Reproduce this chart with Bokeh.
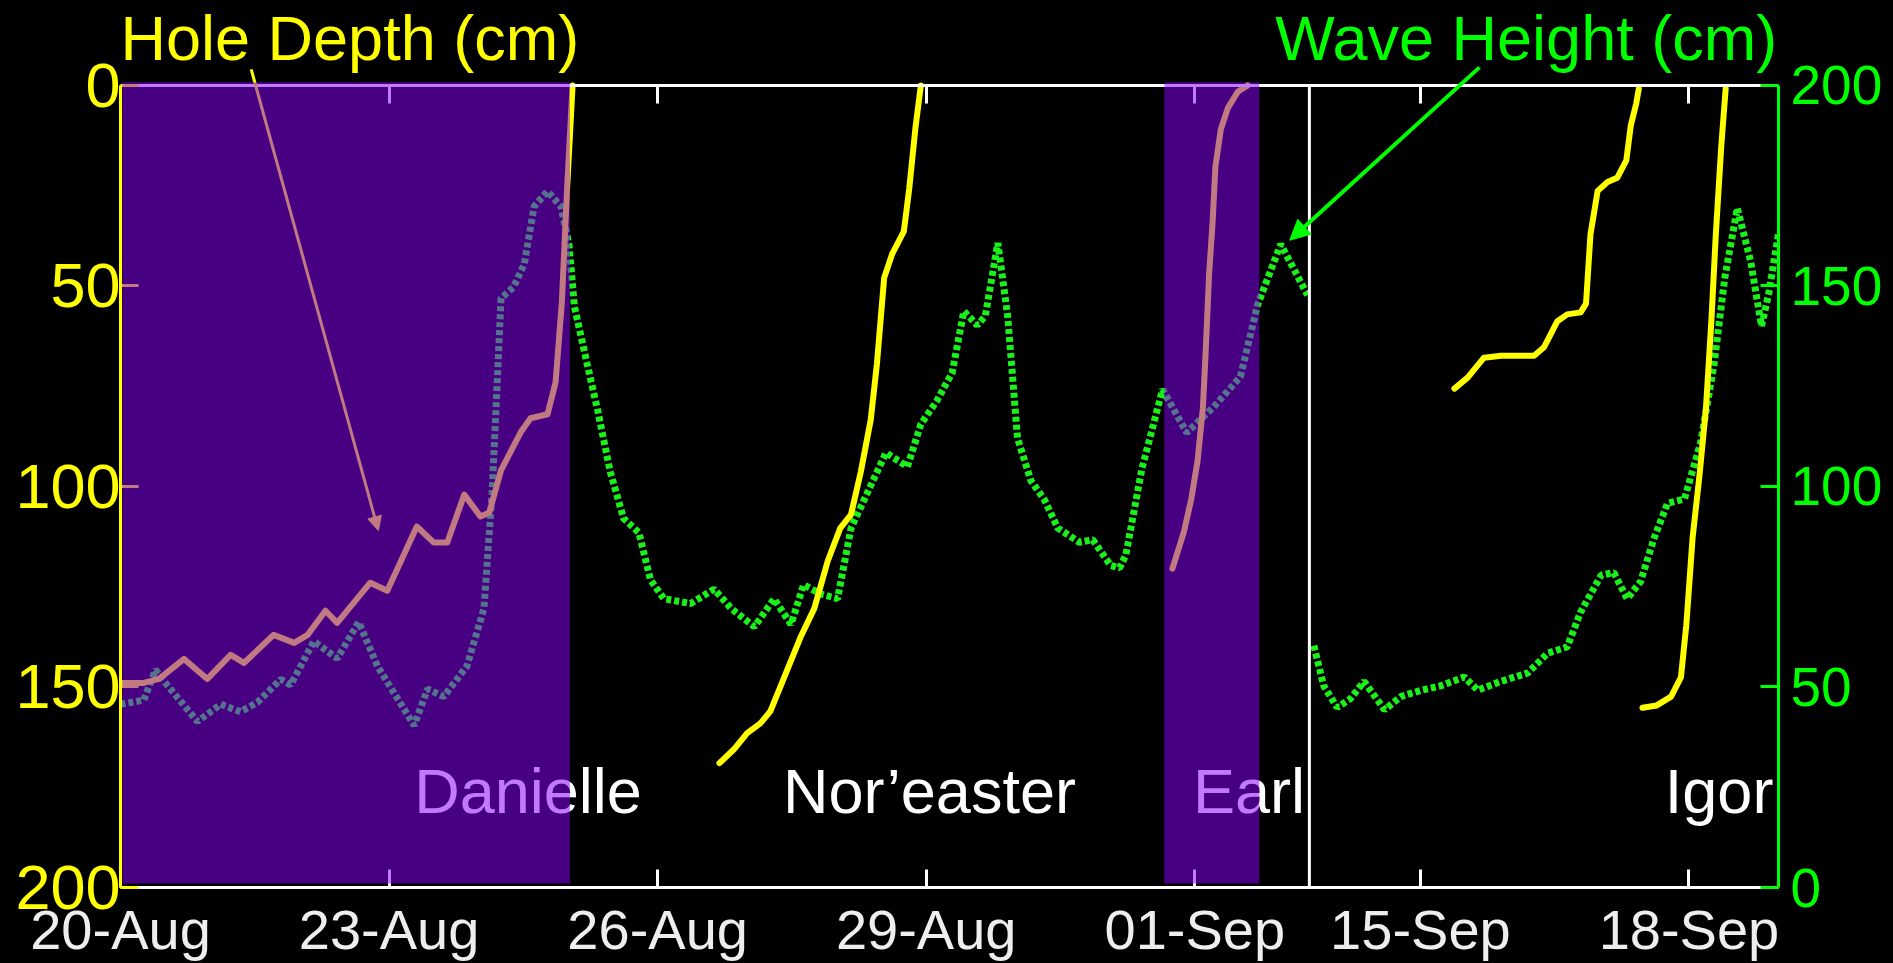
from bokeh.plotting import figure
from bokeh.models import (Range1d, LinearAxis, FixedTicker, ColumnDataSource, BoxAnnotation,
                          Label, Arrow, NormalHead)
from bokeh.core.properties import value
from bokeh.embed import file_html
from bokeh.resources import INLINE

# time = days since 20-Aug 00:00 ; the axis skips 02-Sep 06:43 .. 13-Sep 18:14
tick_days = [0, 3, 6, 9, 12, 26, 29]
tick_labels = ["20-Aug", "23-Aug", "26-Aug", "29-Aug", "01-Sep", "15-Sep", "18-Sep"]
depth_ticks = [0, 50, 100, 150, 200]
wave_ticks = [0, 50, 100, 150, 200]

# Hole depth (cm) pieces
depth1_t = [0, 0.26, 0.43, 0.71, 0.97, 1.23, 1.38, 1.71, 1.94, 2.09, 2.29, 2.42, 2.79, 2.98,
            3.31, 3.50, 3.65, 3.84, 4.02, 4.12, 4.25, 4.47, 4.58, 4.77, 4.86, 4.93, 4.99, 5.05]
depth1_v = [149, 149, 148, 143, 148, 142, 144, 137, 139, 137, 131, 134, 124, 126,
            110, 114, 114, 102, 107.5, 106.5, 96, 86.5, 83, 82, 74, 54, 25, 0]
depth2_t = [6.69, 6.85, 7.00, 7.15, 7.26, 7.45, 7.60, 7.75, 7.90, 8.04, 8.16, 8.27, 8.38,
            8.45, 8.53, 8.62, 8.75, 8.81, 8.88, 8.94]
depth2_v = [169, 165.6, 161.5, 159, 156, 145.6, 137.4, 130.4, 118.6, 110.4, 107, 96.3, 83.4,
            69.3, 48, 42, 36.4, 25.8, 10.5, 0]
depth3_t = [11.75, 11.88, 11.96, 12.03, 12.09, 12.12, 12.16, 12.20, 12.23, 12.29, 12.37, 12.48, 12.59]
depth3_v = [120.5, 111.2, 103.2, 93.8, 80.5, 67.1, 47.0, 33.7, 20.3, 11.0, 5.6, 1.6, 0]
depth4_t = [26.38, 26.53, 26.71, 26.90, 27.27, 27.38, 27.53, 27.64, 27.79, 27.85, 27.90, 27.98,
            28.09, 28.20, 28.30, 28.35, 28.41, 28.44]
depth4_v = [75.6, 72.8, 67.9, 67.4, 67.4, 65.3, 58.8, 57.1, 56.6, 54.4, 37.1, 26.3,
            24.1, 23.0, 18.7, 10.0, 4.6, 0.8]
depth5_t = [28.48, 28.64, 28.80, 28.91, 28.97, 29.04, 29.12, 29.19, 29.25, 29.30, 29.36, 29.41]
depth5_v = [155.2, 154.6, 152.4, 147.6, 134.6, 112.9, 96.7, 80.4, 58.8, 37.1, 15.4, 0.8]

# Wave height (cm)
wave1_t = [0, 0.26, 0.39, 0.52, 0.86, 1.12, 1.34, 1.53, 1.79, 1.90, 2.16, 2.42, 2.66, 2.87,
           3.28, 3.43, 3.61, 3.87, 4.06, 4.15, 4.21, 4.25, 4.39, 4.51, 4.62, 4.77, 4.92, 5.01,
           5.07, 5.21, 5.33, 5.47, 5.62, 5.79, 5.92, 6.07, 6.37, 6.63, 6.82, 7.08, 7.30, 7.49,
           7.63, 7.82, 8.01, 8.16, 8.38, 8.55, 8.79, 8.94, 9.12, 9.29, 9.42, 9.57, 9.66, 9.80,
           9.91, 10.02, 10.17, 10.32, 10.47, 10.71, 10.86, 11.06, 11.16, 11.23, 11.41, 11.64,
           11.91, 12.21, 12.51, 12.70, 12.96, 13.26]
wave1_v = [45.7, 46.7, 54.3, 50.5, 41.4, 45.7, 43.8, 46.2, 51.9, 50.5, 61.4, 57.1, 66.2, 55.2,
           40.4, 49.5, 47.6, 55.2, 69.6, 98.2, 126.8, 146.9, 149.7, 155.4, 169.8, 173.6, 169.8, 160.2,
           144.9, 130.8, 119.0, 103.7, 92.0, 88.5, 76.7, 72.0, 70.8, 74.4, 69.6, 65.0, 72.0, 65.6,
           75.5, 73.2, 72.0, 89.6, 100.2, 108.4, 104.9, 115.5, 121.4, 128.4, 143.7, 140.2, 142.5, 160.7,
           142.5, 112.0, 101.4, 96.7, 89.6, 86.1, 86.7, 80.3, 79.7, 82.9, 104.5, 124.2,
           113.4, 119.8, 127.4, 145.2, 160.4, 147.7]
wave2_t = [24.81, 24.92, 25.07, 25.22, 25.37, 25.60, 25.78, 26.01, 26.23, 26.49, 26.64, 26.90,
           27.20, 27.42, 27.64, 27.79, 28.02, 28.16, 28.31, 28.46, 28.61, 28.76, 28.95, 29.13,
           29.28, 29.40, 29.54, 29.69, 29.81, 29.89, 30.00]
wave2_v = [60.3, 50.3, 44.9, 47.1, 51.4, 44.3, 47.6, 49.2, 50.3, 52.5, 49.2, 51.4,
           53.5, 58.4, 60.0, 68.7, 77.9, 78.5, 72.0, 76.3, 87.1, 95.8, 96.9, 110.9,
           130.4, 152.0, 169.4, 156, 140, 148, 163]

storms = ["Danielle", "Nor\u2019easter", "Earl", "Igor"]
storm_label_t = [3.28, 7.40, 11.98, 28.73]
storm_spans = [(0.0, 5.02), (11.64, 12.72)]   # shaded storm periods (days)

GAP_START = 13.28
GAP_DAYS = 11.48
END_DAY = 30.0
HEADROOM = 21.17   # depth units above 0 kept for the header texts


def to_x(ts):
    return [t if t <= GAP_START else round(t - GAP_DAYS, 4) for t in ts]


FONT = "Liberation Sans"
YELLOW = "#FFFF00"
GREEN = "#00FF00"
WHITE = "#FFFFFF"

p = figure(width=1893, height=963, output_backend="svg", toolbar_location=None,
           x_range=Range1d(0, to_x([END_DAY])[0]), y_range=Range1d(200, -HEADROOM),
           background_fill_color="black", border_fill_color="black",
           min_border_left=120, min_border_right=115, min_border_top=0, min_border_bottom=75)
p.title.visible = False
p.outline_line_color = None
p.grid.visible = False
p.extra_y_ranges = {"wave": Range1d(0, 200 + HEADROOM)}

xt = to_x(tick_days)
xticker = FixedTicker(ticks=xt)

xa = p.xaxis[0]
xa.ticker = xticker
xa.major_label_overrides = {xt[i]: tick_labels[i] for i in range(len(xt))}
xa.axis_line_color = WHITE
xa.axis_line_width = 3
xa.major_tick_line_color = WHITE
xa.major_tick_line_width = 3
xa.major_tick_in = 18
xa.major_tick_out = 0
xa.minor_tick_line_color = None
xa.major_label_text_color = "#EEEEEE"
xa.major_label_text_font = FONT
xa.major_label_text_font_size = "56px"
xa.major_label_standoff = 10

ya = p.yaxis[0]
ya.ticker = FixedTicker(ticks=depth_ticks)
ya.bounds = (0, 200)
ya.axis_line_color = YELLOW
ya.axis_line_width = 3
ya.major_tick_line_color = YELLOW
ya.major_tick_line_width = 3
ya.major_tick_in = 18
ya.major_tick_out = 0
ya.minor_tick_line_color = None
ya.major_label_text_color = YELLOW
ya.major_label_text_font = FONT
ya.major_label_text_font_size = "63px"
ya.major_label_standoff = 0

top_axis = LinearAxis(ticker=xticker, fixed_location=0, axis_line_color=WHITE, axis_line_width=3,
                      major_tick_line_color=WHITE, major_tick_line_width=3,
                      major_tick_in=18, major_tick_out=0, minor_tick_line_color=None,
                      major_label_text_color=None)
p.add_layout(top_axis, "above")

right_axis = LinearAxis(y_range_name="wave", ticker=FixedTicker(ticks=wave_ticks), bounds=(0, 200),
                        axis_line_color=GREEN, axis_line_width=3,
                        major_tick_line_color=GREEN, major_tick_line_width=3,
                        major_tick_in=18, major_tick_out=0, minor_tick_line_color=None,
                        major_label_text_color=GREEN, major_label_text_font=FONT,
                        major_label_text_font_size="55px", major_label_standoff=12)
p.add_layout(right_axis, "right")

# wave height (dotted green)
for ts, vs in [(wave1_t, wave1_v), (wave2_t, wave2_v)]:
    src = ColumnDataSource(dict(x=to_x(ts), y=vs))
    p.line("x", "y", source=src, y_range_name="wave", line_color="#1AF01A",
           line_width=7, line_dash="5 3")

# hole depth (yellow)
for ts, vs in [(depth1_t, depth1_v), (depth2_t, depth2_v), (depth3_t, depth3_v),
               (depth4_t, depth4_v), (depth5_t, depth5_v)]:
    src = ColumnDataSource(dict(x=to_x(ts), y=vs))
    p.line("x", "y", source=src, line_color=YELLOW, line_width=6, line_cap="round",
           line_join="round")

# storm names
storm_src = ColumnDataSource(dict(x=to_x(storm_label_t), y=[176] * len(storms), text=storms))
p.text("x", "y", text="text", source=storm_src, text_color=WHITE,
       text_font=value(FONT), text_font_size=value("63px"),
       text_align="left", text_baseline="alphabetic")

# break marker between the two periods
p.segment(x0=[GAP_START], y0=[0], x1=[GAP_START], y1=[200], line_color=WHITE, line_width=3)

# hole depth arrow (drawn before the shading so it is tinted inside it)
p.add_layout(Arrow(x_start=1.46, y_start=-4, x_end=2.88, y_end=111,
                   line_color=YELLOW, line_width=3,
                   end=NormalHead(size=14, fill_color=YELLOW, line_color=YELLOW)))

# storm shading (translucent violet on top)
for a, b in storm_spans:
    p.add_layout(BoxAnnotation(left=to_x([a])[0] + 0.02, right=to_x([b])[0], top=-0.8, bottom=199,
                               fill_color="#8A00FA", fill_alpha=0.52, line_color=None))

# wave arrow
p.add_layout(Arrow(x_start=15.18, y_start=204.5, x_end=13.06, y_end=161.4, y_range_name="wave",
                   line_color=GREEN, line_width=4,
                   end=NormalHead(size=20, fill_color=GREEN, line_color=GREEN)))

p.add_layout(Label(x=0.0, y=-11.7, text="Hole Depth (cm)", text_color=YELLOW,
                   text_font=FONT, text_font_size="63px", text_align="left",
                   text_baseline="alphabetic"))
p.add_layout(Label(x=12.90, y=-11.7, text="Wave Height (cm)", text_color=GREEN,
                   text_font=FONT, text_font_size="63px", text_align="left",
                   text_baseline="alphabetic"))

html = file_html(p, INLINE)
html = html.replace("<head>", "<head><style>html,body{background:#000;}</style>", 1)
open("out.html", "w").write(html)
